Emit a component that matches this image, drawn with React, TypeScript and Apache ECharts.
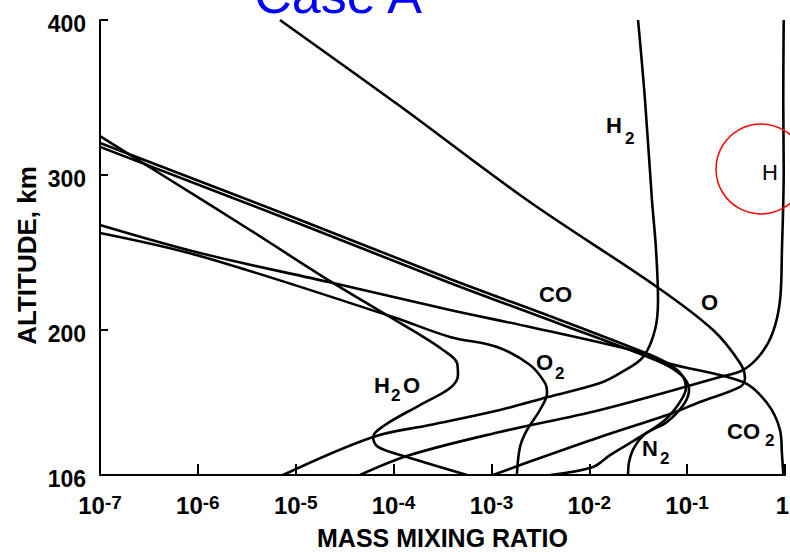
import React, { useEffect, useRef } from "react";
import * as echarts from "echarts";

const FONT = '"Liberation Sans", Arial, Helvetica, sans-serif';

// ---- axis ticks ----
const altitudeLabels = [106, 200, 300, 400];
const altitudeTicks = [200, 300, 400];
const ratioMin = 1e-7;
const ratioMax = 1;

// ---- species profiles: [mass mixing ratio, altitude km] ----
const H: [number, number][] = [
  [0.97, 400], [0.96, 348], [0.97, 303], [0.93, 251], [0.89, 219], [0.75, 198],
  [0.556, 183.5], [0.372, 173.8], [0.217, 169.3], [0.0129, 148.0], [1.22e-3, 133.8],
  [1.47e-4, 118.9], [4.54e-5, 106],
];
const H2: [number, number][] = [
  [0.0315, 400], [0.0371, 348.3], [0.0437, 283.7], [0.0481, 251.4], [0.0504, 219.1],
  [0.0469, 199.7], [0.0354, 182.2], [0.0206, 171.9], [0.0129, 165.5], [3.78e-3, 156.4],
  [1.22e-3, 148.0], [2.35e-4, 138.3], [6.17e-5, 130.6], [7.41e-6, 106],
];
const O: [number, number][] = [
  [6.9e-6, 400], [1.16e-4, 344.4], [2.31e-3, 283.7], [0.0492, 227.5], [0.184, 199.7],
  [0.347, 178.4], [0.39, 168.7], [0.347, 162.9], [0.135, 153.2], [0.0716, 146.1],
  [0.0129, 130.6], [3.13e-3, 117.0], [1.04e-3, 106],
];
const CO2: [number, number][] = [
  [1e-7, 267.5], [1.05e-6, 249.4], [2.4e-5, 230.1], [3.78e-4, 212.6], [2.48e-3, 201.6],
  [0.0354, 184.8], [0.0622, 178.4], [0.372, 166.1], [0.655, 152.5], [0.889, 135.1],
  [0.93, 120], [0.961, 106],
];
const O2: [number, number][] = [
  [1e-7, 262.4], [1.05e-6, 247.5], [9.86e-5, 208.1], [3.78e-4, 195.2], [1.14e-3, 188.7],
  [2.48e-3, 177.1], [3.52e-3, 165.5], [3.7e-3, 159.0], [3.13e-3, 148.0], [2.31e-3, 135.1],
  [1.96e-3, 124.1], [1.82e-3, 106],
];
const H2O: [number, number][] = [
  [1e-7, 325], [4.84e-7, 297.9], [3.41e-6, 264.3], [2.4e-5, 230.1], [1.73e-4, 197.8],
  [3.2e-4, 186.8], [4.45e-4, 178.4], [4.55e-4, 170.6], [3.78e-4, 162.2], [1.86e-4, 151.2],
  [8.17e-5, 138.3], [6.17e-5, 130.6], [6.93e-5, 124.1], [1.37e-4, 117.6], [5.62e-4, 106],
];
const CO: [number, number][] = [
  [1e-7, 320.5], [1.11e-5, 270.8], [3.78e-4, 232.7], [5.02e-3, 206.2], [0.0354, 185.5],
  [0.0622, 178.4], [0.0885, 170.6], [0.0973, 162.2], [0.0845, 153.2], [0.0594, 141.6],
  [0.033, 130.6], [0.0163, 118.9], [0.0109, 111.2], [3.97e-3, 106],
];
const N2: [number, number][] = [
  [1e-7, 318], [1.11e-5, 268.2], [3.78e-4, 230.1], [5.02e-3, 203.6], [0.0354, 183.5],
  [0.0637, 176.5], [0.0929, 168.7], [0.1045, 160.9], [0.0929, 151.9], [0.0622, 140.3],
  [0.0371, 132.5], [0.0286, 123.5], [0.0255, 114.4], [0.0249, 106],
];

const profiles: { name: string; data: [number, number][] }[] = [
  { name: "H", data: H },
  { name: "H2", data: H2 },
  { name: "O", data: O },
  { name: "CO2", data: CO2 },
  { name: "O2", data: O2 },
  { name: "H2O", data: H2O },
  { name: "CO", data: CO },
  { name: "N2", data: N2 },
];

function txt(x: number, y: number, text: string, size: number, extra: any = {}) {
  return {
    type: "text",
    x,
    y,
    z: 20,
    style: {
      text,
      fontSize: size,
      fontFamily: FONT,
      fontWeight: "bold",
      fill: "#000",
      align: "left",
      verticalAlign: "middle",
      ...extra,
    },
  };
}

export default function App() {
  const ref = useRef<HTMLDivElement>(null);
  useEffect(() => {
    if (!ref.current) return;
    const chart = echarts.init(ref.current, undefined, { renderer: "svg" });
    const L = 22;
    const S = 17;
    const option: any = {
      animation: false,
      backgroundColor: "#fff",
      grid: { left: 100, right: 5, top: 20, bottom: 77, outerBoundsMode: "none", containLabel: false },
      xAxis: {
        type: "log",
        logBase: 10,
        min: ratioMin,
        max: ratioMax,
        name: "MASS MIXING RATIO",
        nameLocation: "middle",
        nameGap: 50,
        nameMoveOverlap: false,
        nameTextStyle: { fontFamily: FONT, fontSize: 25, lineHeight: 25, fontWeight: "bold", color: "#000" },
        axisLine: { onZero: false, lineStyle: { color: "#000", width: 2 } },
        axisTick: { show: true, inside: true, length: 11, lineStyle: { color: "#000", width: 2 } },
        minorTick: { show: false },
        splitLine: { show: false },
        axisLabel: {
          margin: 18,
          color: "#000",
          fontFamily: FONT,
          fontWeight: "bold",
          hideOverlap: false,
          formatter: (v: number) => {
            const e = Math.round(Math.log10(v));
            return e === 0 ? "{one|1}" : `{n|10}{s|${e}}`;
          },
          rich: {
            n: { fontSize: 24, lineHeight: 24, fontFamily: FONT, fontWeight: "bold", verticalAlign: "bottom", color: "#000" },
            one: { fontSize: 24, lineHeight: 24, fontFamily: FONT, fontWeight: "bold", verticalAlign: "bottom", color: "#000", padding: [0, 5, 0, 0] },
            s: { fontSize: 19, lineHeight: 18, fontFamily: FONT, fontWeight: "bold", verticalAlign: "top", padding: [0, 0, 12, 0], color: "#000" },
          },
        },
      },
      yAxis: {
        type: "value",
        min: 106,
        max: 400,
        name: "ALTITUDE, km",
        nameLocation: "middle",
        nameGap: 60,
        nameMoveOverlap: false,
        nameTextStyle: { fontFamily: FONT, fontSize: 26, fontWeight: "bold", color: "#000", padding: [0, 16, 0, 0] },
        axisLine: { show: true, lineStyle: { color: "#000", width: 2 } },
        axisTick: { show: true, inside: true, length: 8, customValues: altitudeTicks, lineStyle: { color: "#000", width: 2 } },
        splitLine: { show: false },
        axisLabel: {
          customValues: altitudeLabels,
          fontFamily: FONT,
          fontSize: 23,
          fontWeight: "bold",
          color: "#000",
          margin: 14,
          formatter: (v: number) => `{v|${v}}`,
          rich: {
            v: { fontFamily: FONT, fontSize: 23, lineHeight: 23, fontWeight: "bold", color: "#000", padding: [8, 0, 0, 0] },
          },
        },
      },
      series: profiles.map((p) => ({
        type: "line",
        name: p.name,
        data: p.data,
        showSymbol: false,
        symbol: "none",
        smooth: 0.35,
        lineStyle: { color: "#000", width: 2.6 },
        z: 5,
      })),
      graphic: [
        {
          type: "text",
          x: 338,
          y: -5,
          z: 30,
          style: { text: "Case A", fontSize: 52, fontFamily: FONT, fill: "#0000ff", align: "center", verticalAlign: "middle" },
        },
        {
          type: "circle",
          z: 25,
          shape: { cx: 761, cy: 169, r: 45 },
          style: { fill: "none", stroke: "#ff0000", lineWidth: 1.5 },
        },
        txt(606, 125, "H", L),
        txt(625, 138, "2", S),
        txt(762, 172, "H", L, { fontWeight: "normal" }),
        txt(539, 294, "CO", L),
        txt(701, 302, "O", L),
        txt(536, 362, "O", L),
        txt(555, 373, "2", S),
        txt(374, 385, "H", L),
        txt(391, 395, "2", S),
        txt(403, 385, "O", L),
        txt(642, 448, "N", L),
        txt(660, 458, "2", S),
        txt(727, 431, "CO", L),
        txt(765, 440, "2", S),
      ],
    };
    chart.setOption(option);
    return () => chart.dispose();
  }, []);
  return (
    <div
      ref={ref}
      style={{ position: "absolute", left: 0, top: 0, width: 790, height: 552 }}
    />
  );
}
